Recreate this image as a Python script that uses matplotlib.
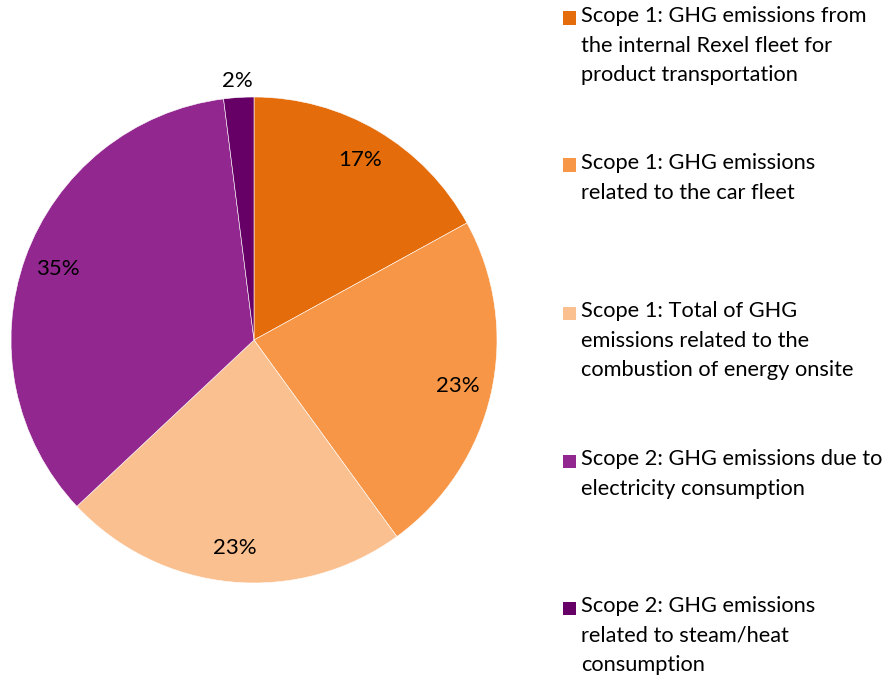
import matplotlib.pyplot as plt
from matplotlib.patches import Rectangle
import numpy as np

plt.rcParams['font.family'] = ['Lato', 'DejaVu Sans']

labels = [
    "Scope 1: GHG emissions from\nthe internal Rexel fleet for\nproduct transportation",
    "Scope 1: GHG emissions\nrelated to the car fleet",
    "Scope 1: Total of GHG\nemissions related to the\ncombustion of energy onsite",
    "Scope 2: GHG emissions due to\nelectricity consumption",
    "Scope 2: GHG emissions\nrelated to steam/heat\nconsumption",
]
values = [17, 23, 23, 35, 2]
colors = ["#E46C0A", "#F79646", "#FAC090", "#92278F", "#660066"]

W, H = 892, 679
fig = plt.figure(figsize=(W / 100, H / 100), dpi=100)

cx, cy, r = 254, 340, 243
ax = fig.add_axes([(cx - r) / W, (H - cy - r) / H, 2 * r / W, 2 * r / H])
wedges, texts, autotexts = ax.pie(
    values, colors=colors, startangle=90, counterclock=False,
    autopct="%1.0f%%", pctdistance=0.86,
    wedgeprops=dict(edgecolor="white", linewidth=0.4),
    textprops=dict(fontsize=16, color="black"))

# small slice label sits outside the pie
w = wedges[-1]
ang = np.deg2rad((w.theta1 + w.theta2) / 2)
autotexts[-1].set_position((1.07 * np.cos(ang), 1.07 * np.sin(ang)))
autotexts[-1].set_clip_on(False)

ax.set_xlim(-1, 1)
ax.set_ylim(-1, 1)
ax.set_aspect("equal")
ax.axis("off")

# legend on the right
entry_y = [18, 165, 313, 461, 608]
for lab, col, y in zip(labels, colors, entry_y):
    fig.patches.append(Rectangle((563 / W, (H - y - 6.5) / H), 13 / W, 13 / H,
                                 transform=fig.transFigure, facecolor=col,
                                 edgecolor="none"))
    fig.text(581 / W, (H - y + 12) / H, lab, fontsize=15.7, va="top", ha="left",
             linespacing=1.6)

fig.savefig("out.png", dpi=100)
